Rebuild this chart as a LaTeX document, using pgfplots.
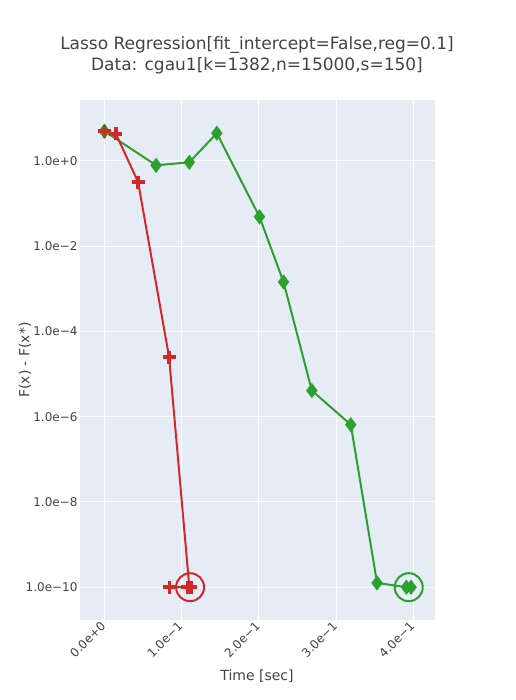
\documentclass[border=0pt]{standalone}
\usepackage{pgfplots}
\pgfplotsset{compat=1.18}
\usepackage{fontspec}
\setmainfont{DejaVu Sans}
\definecolor{bg}{HTML}{E5ECF6}
\definecolor{txt}{HTML}{444444}
\definecolor{pred}{HTML}{D62728}
\definecolor{pgreen}{HTML}{2CA02C}
\begin{document}
\begin{tikzpicture}[x=1pt,y=1pt]
\path[fill=white] (0,0) rectangle (515,700);
\node[txt, font=\fontsize{17}{20}\selectfont] at (257,655) {Lasso Regression[fit\_intercept=False,reg=0.1]};
\node[txt, font=\fontsize{17}{20}\selectfont] at (257,634) {Data: cgau1[k=1382,n=15000,s=150]};
\node[txt, font=\fontsize{14}{16}\selectfont] at (257,24) {Time [sec]};
\node[txt, font=\fontsize{14}{16}\selectfont, rotate=90] at (25,340) {F(x) - F(x*)};
\begin{axis}[
    at={(80pt,80pt)}, anchor=south west,
    scale only axis, width=355pt, height=520pt,
    xmin=-0.0315, xmax=0.428,
    ymode=log, ymin=1.7e-11, ymax=26.9,
    axis background/.style={fill=bg},
    axis line style={draw=none},
    major tick length=0pt, minor tick num=0,
    grid=major, major grid style={white, line width=1pt},
    xtick={0,0.1,0.2,0.3,0.4},
    xticklabels={0.0e+0,1.0e−1,2.0e−1,3.0e−1,4.0e−1},
    ytick={1,1e-2,1e-4,1e-6,1e-8,1e-10},
    yticklabels={1.0e+0,1.0e−2,1.0e−4,1.0e−6,1.0e−8,1.0e−10},
    tick label style={txt, font=\fontsize{12}{14}\selectfont},
    x tick label style={rotate=45, anchor=east, yshift=-2pt},
    yticklabel style={xshift=1pt},
    clip=false,
]
\addplot[pgreen, line width=2pt, mark=diamond*, mark size=6pt] coordinates {
 (0.000,5.0) (0.067,0.79) (0.110,0.93) (0.1456,4.47) (0.2008,0.049) (0.2319,1.45e-3) (0.2686,4.1e-6) (0.319,6.5e-7) (0.353,1.26e-10) (0.391,1e-10) (0.397,1e-10)};
\addplot[pred, line width=2pt, mark=+, mark size=6.5pt, mark options={line width=3.5pt}] coordinates {
 (0.000,5.0) (0.015,4.3) (0.0437,0.32) (0.0838,2.5e-5) (0.110,1e-10) (0.0842,1e-10) (0.108,1e-10) (0.112,1e-10)};
\addplot[pred, only marks, mark=o, mark size=14pt, mark options={line width=2pt}] coordinates {(0.111,1e-10)};
\addplot[pgreen, only marks, mark=o, mark size=14pt, mark options={line width=2pt}] coordinates {(0.394,1e-10)};
\end{axis}
\end{tikzpicture}
\end{document}
